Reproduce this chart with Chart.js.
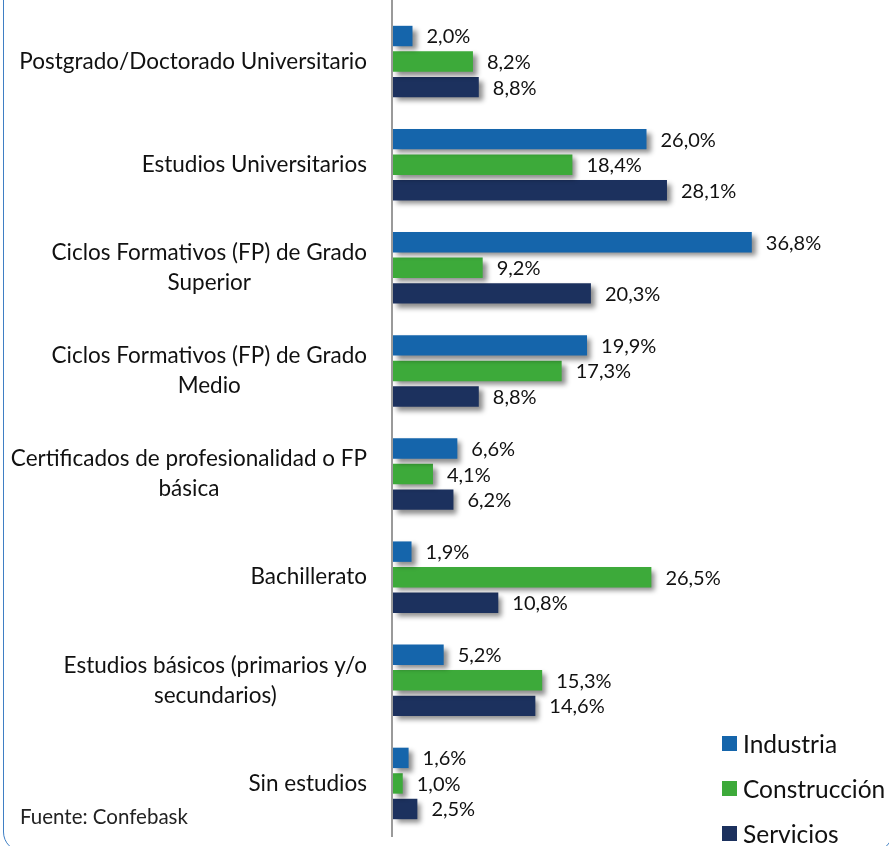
<!DOCTYPE html>
<html>
<head>
<meta charset="utf-8">
<script src="https://cdn.jsdelivr.net/npm/chart.js@4.4.1/dist/chart.umd.min.js"></script>
<style>
    html, body { margin: 0; padding: 0; background: #fff; }
    #wrap { position: relative; width: 889px; height: 846px; overflow: hidden; font-family: Lato, sans-serif; }
    #frame {
        position: absolute; left: 3px; top: -40px; width: 890px; height: 892px;
        border: 1.5px solid #3f7fc4; border-radius: 20px; box-sizing: border-box;
    }
    #chart { position: absolute; left: 0; top: 0; }
    #source { position: absolute; left: 20px; top: 804px; font-size: 20.5px; color: #222; }
    #legend { position: absolute; left: 722px; top: 721px; }
    .item { height: 45px; display: flex; align-items: center; font-size: 24.5px; color: #111; }
    .item i { display: inline-block; width: 15px; height: 15px; margin-right: 6px; }
</style>
</head>
<body>
<div id="wrap">
    <div id="frame"></div>
    <canvas id="chart" width="889" height="846"></canvas>
    <div id="source">Fuente: Confebask</div>
    <div id="legend"></div>
</div>
<script>
// Education level categories (multi-line labels as arrays)
const categories = [
    'Postgrado/Doctorado Universitario',
    'Estudios Universitarios',
    ['Ciclos Formativos (FP) de Grado', 'Superior'],
    ['Ciclos Formativos (FP) de Grado', 'Medio'],
    ['Certificados de profesionalidad o FP', 'básica'],
    'Bachillerato',
    ['Estudios básicos (primarios y/o', 'secundarios)'],
    'Sin estudios'
];

const seriesNames = ['Industria', 'Construcción', 'Servicios'];
const seriesColors = ['#1565ab', '#3daa3a', '#1c315e'];

const industria = [2.0, 26.0, 36.8, 19.9, 6.6, 1.9, 5.2, 1.6];
const construccion = [8.2, 18.4, 9.2, 17.3, 4.1, 26.5, 15.3, 1.0];
const servicios = [8.8, 28.1, 20.3, 8.8, 6.2, 10.8, 14.6, 2.5];

const fmt = (v) => v.toFixed(1).replace('.', ',') + '%';

// Drop shadow under the bars, values drawn after
const barShadow = {
    id: 'barShadow',
    beforeDatasetsDraw(chart) {
        const ctx = chart.ctx;
        ctx.save();
        ctx.shadowColor = 'rgba(0, 0, 0, 0.45)';
        ctx.shadowBlur = 5;
        ctx.shadowOffsetX = 4;
        ctx.shadowOffsetY = 4;
    },
    afterDatasetsDraw(chart) {
        const ctx = chart.ctx;
        ctx.restore();
        ctx.save();
        ctx.font = '20px Lato, sans-serif';
        ctx.fillStyle = '#111';
        ctx.textAlign = 'left';
        ctx.textBaseline = 'middle';
        chart.data.datasets.forEach((ds, i) => {
            chart.getDatasetMeta(i).data.forEach((bar, j) => {
                ctx.fillText(fmt(ds.data[j]), bar.x + 14, bar.y + 1);
            });
        });
        ctx.restore();
    }
};

// Category labels: block right aligned, lines centred inside the block
const categoryLabels = {
    id: 'categoryLabels',
    afterDraw(chart) {
        const ctx = chart.ctx;
        const yScale = chart.scales.y;
        const right = chart.chartArea.left - 26;
        const lineHeight = 30;
        ctx.save();
        // vertical axis line running up to the top edge
        ctx.strokeStyle = '#9a9a9a';
        ctx.lineWidth = 2;
        ctx.beginPath();
        ctx.moveTo(chart.chartArea.left - 1, 0);
        ctx.lineTo(chart.chartArea.left - 1, chart.chartArea.bottom + 2);
        ctx.stroke();

        ctx.font = '22.5px Lato, sans-serif';
        ctx.fillStyle = '#111';
        ctx.textAlign = 'center';
        ctx.textBaseline = 'middle';
        chart.data.labels.forEach((label, i) => {
            const lines = Array.isArray(label) ? label : [label];
            const block = Math.max(...lines.map(l => ctx.measureText(l).width));
            const cx = right - block / 2;
            const y0 = yScale.getPixelForValue(i) - (lines.length - 1) * lineHeight / 2;
            lines.forEach((l, k) => ctx.fillText(l, cx, y0 + k * lineHeight));
        });
        ctx.restore();
    }
};

new Chart(document.getElementById('chart'), {
    type: 'bar',
    data: {
        labels: categories,
        datasets: [industria, construccion, servicios].map((d, i) => ({
            label: seriesNames[i],
            data: d,
            backgroundColor: seriesColors[i],
            borderWidth: 0,
            categoryPercentage: 0.743,
            barPercentage: 0.8
        }))
    },
    options: {
        indexAxis: 'y',
        responsive: false,
        animation: false,
        layout: { padding: { top: 10, bottom: 11, right: 106, left: 0 } },
        plugins: {
            legend: { display: false },
            tooltip: { enabled: false }
        },
        scales: {
            x: { display: false, min: 0, max: 40 },
            y: {
                grid: { display: false },
                border: { display: false },
                ticks: { display: false },
                afterFit(scale) { scale.width = 393; }
            }
        }
    },
    plugins: [barShadow, categoryLabels]
});

// HTML legend
document.getElementById('legend').innerHTML = seriesNames.map((n, i) =>
    `<div class="item"><i style="background:${seriesColors[i]}"></i>${n}</div>`).join('');
</script>
</body>
</html>
